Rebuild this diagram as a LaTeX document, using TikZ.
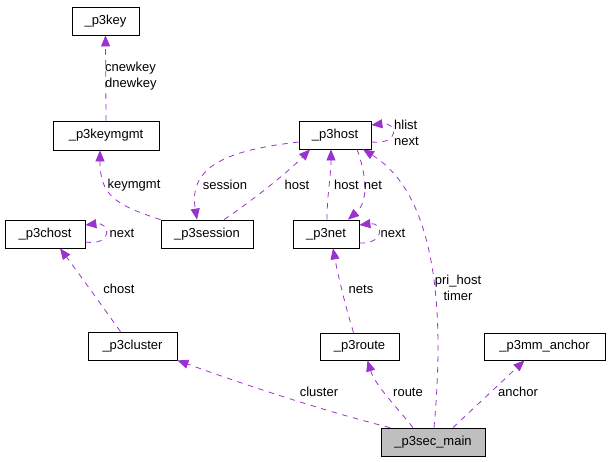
\documentclass[tikz,border=0pt]{standalone}
\usepackage{fontspec}
\setmainfont{Liberation Sans}
\usetikzlibrary{arrows.meta}
\definecolor{edgecol}{HTML}{9A32CD}
\definecolor{mainfill}{HTML}{BFBFBF}
\begin{document}
\begin{tikzpicture}[x=1pt,y=-1pt,
  cls/.style={draw=black,line width=0.8pt,inner sep=0pt,font=\fontsize{13}{15}\selectfont,minimum height=28pt},
  dep/.style={draw=edgecol,line width=0.8pt,dash pattern=on 5.5pt off 5.5pt,-{Triangle[length=11pt,width=9pt,fill=edgecol]}},
  lbl/.style={font=\fontsize{13}{16}\selectfont,inner sep=0pt,align=center}]
\useasboundingbox (0,0) rectangle (609,461);
% classes
\node[cls,minimum width=67pt] (key) at (105.5,21) {\_p3key};
\node[cls,minimum width=106pt,minimum height=29pt] (keymgmt) at (106,135.5) {\_p3keymgmt};
\node[cls,minimum width=80pt] (chost) at (45,234) {\_p3chost};
\node[cls,minimum width=92pt] (session) at (207,234) {\_p3session};
\node[cls,minimum width=72pt] (host) at (335,135) {\_p3host};
\node[cls,minimum width=66pt] (net) at (326,234) {\_p3net};
\node[cls,minimum width=89pt] (cluster) at (132.5,346) {\_p3cluster};
\node[cls,minimum width=79pt,minimum height=27pt] (route) at (359.5,346.5) {\_p3route};
\node[cls,minimum width=121pt,minimum height=27pt] (anchor) at (544.5,346.5) {\_p3mm\_anchor};
\node[cls,minimum width=104pt,fill=mainfill] (main) at (433,442) {\_p3sec\_main};
% edges
\draw[dep] (keymgmt.north) -- (key.south);
\node[lbl,anchor=west,align=left] (l1) at (105,76) {cnewkey\\dnewkey};

\draw[dep] (session.north west) .. controls (115,205) and (100,195) .. ([xshift=-6pt]keymgmt.south);
\node[lbl] (l2) at (134,185) {keymgmt};

\draw[dep] ([yshift=-8pt]chost.east) .. controls (113,246) and (111,222) .. ([yshift=9pt]chost.east);
\node[lbl] (l3) at (122,233) {next};

\draw[dep] ([xshift=-12pt]cluster.north) .. controls (105,310) and (80,275) .. ([xshift=15pt]chost.south);
\node[lbl] (l4) at (119,289) {chost};

\draw[dep] ([xshift=17pt]session.north) .. controls (260,195) and (290,170) .. ([xshift=-25pt]host.south);
\node[lbl] (l5) at (297,185) {host};

\draw[dep] ([yshift=-7pt]host.west) .. controls (230,150) and (188,165) .. ([xshift=-10pt]session.north);
\node[lbl] (l6) at (225,185) {session};

\draw[dep] ([xshift=1pt]net.north) .. controls (327,195) and (331,175) .. ([xshift=-4pt]host.south);
\node[lbl] (l7) at (346.5,185) {host};

\draw[dep] ([xshift=22pt]host.south) .. controls (370,185) and (365,205) .. ([xshift=22pt]net.north);
\node[lbl] (l8) at (373,185) {net};

\draw[dep] ([yshift=-7pt]host.east) .. controls (400,145) and (398,122) .. ([yshift=10pt]host.east);
\node[lbl,anchor=west,align=left] (l9) at (394,133) {hlist\\next};

\draw[dep] ([yshift=-9pt]net.east) .. controls (386,244) and (383,222) .. ([yshift=9pt]net.east);
\node[lbl] (l10) at (393,233) {next};

\draw[dep] ([xshift=-6pt]route.north) .. controls (345,305) and (338,275) .. ([xshift=7pt]net.south);
\node[lbl] (l11) at (361,289) {nets};

\draw[dep] ([xshift=1pt]main.north) .. controls (442,340) and (445,200) .. ([xshift=28pt]host.south);
\node[lbl] (l12) at (458,288) {pri\_host\\timer};

\draw[dep] ([xshift=-43pt]main.north) .. controls (320,410) and (240,383) .. (cluster.south east);
\node[lbl] (l13) at (319,392) {cluster};

\draw[dep] ([xshift=-20pt]main.north) .. controls (395,405) and (375,385) .. ([xshift=8pt]route.south);
\node[lbl] (l14) at (408,392) {route};

\draw[dep] ([xshift=20pt]main.north) -- ([xshift=-20pt]anchor.south);
\node[lbl] (l15) at (518,392) {anchor};
\end{tikzpicture}
\end{document}
